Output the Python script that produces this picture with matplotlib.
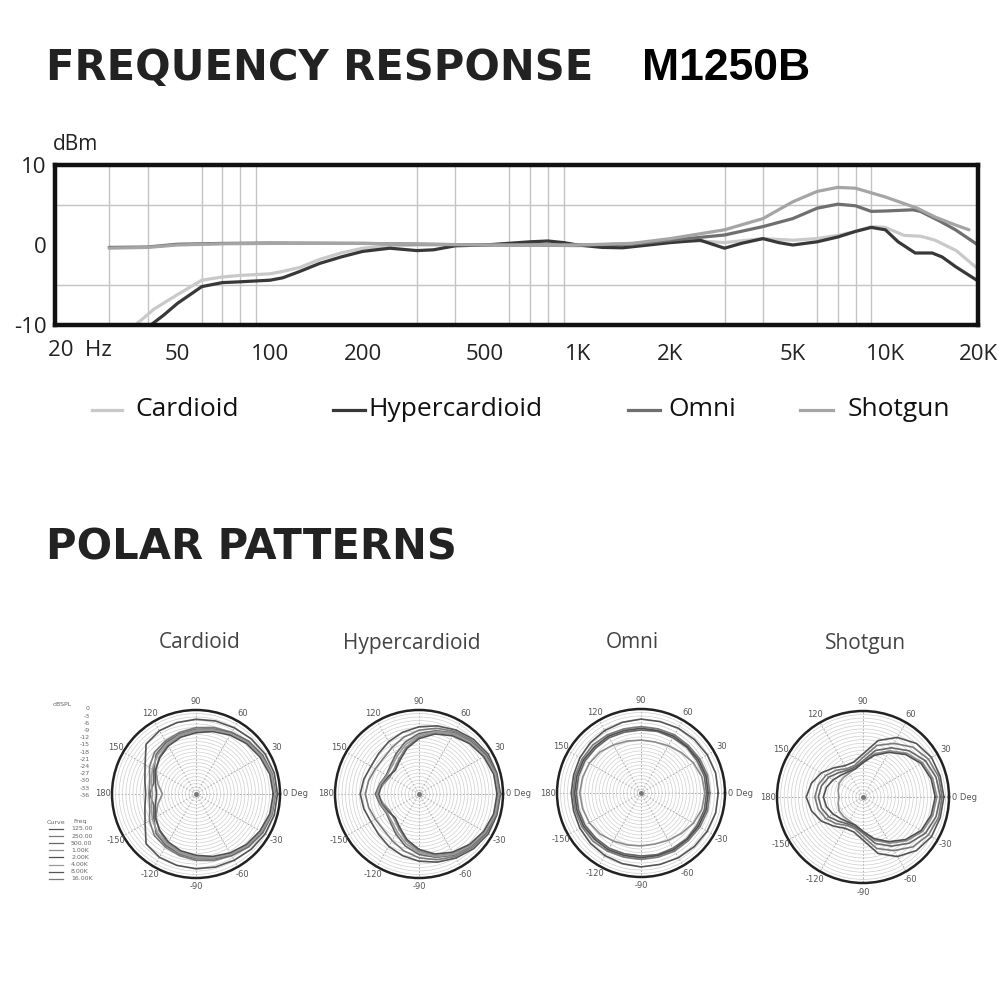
import numpy as np
import matplotlib.pyplot as plt
from matplotlib.lines import Line2D
from matplotlib.ticker import FixedLocator, NullFormatter

# === Frequency response data (Hz, dB) ===
cardioid_f = [36, 42, 50, 60, 70, 80, 100, 110, 125, 145, 170, 200, 250, 300, 400, 500, 700,
              1000, 1500, 2000, 2500, 3000, 4000, 5000, 6000, 7000, 8000, 9000, 10000,
              11500, 13000, 14500, 17000, 20000]
cardioid_db = [-10.2, -8.0, -6.2, -4.4, -4.0, -3.8, -3.6, -3.3, -2.8, -1.8, -1.0, -0.4, -0.1, 0.0, 0.0, 0.0, 0.0,
               -0.1, 0.2, 0.5, 0.5, 0.3, 0.8, 0.6, 0.8, 1.2, 1.7, 2.3, 2.2,
               1.2, 1.1, 0.6, -0.7, -3.0]

hyper_f = [40, 45, 50, 60, 70, 80, 100, 110, 125, 145, 170, 200, 245, 300, 340, 400, 500, 700, 800, 900,
           1000, 1200, 1400, 1700, 2000, 2500, 3000, 3400, 4000, 4500, 5000, 6000, 7000, 8000, 9000,
           10000, 11000, 12500, 14200, 15300, 16900, 20000]
hyper_db = [-10.3, -8.8, -7.3, -5.2, -4.7, -4.6, -4.4, -4.1, -3.3, -2.3, -1.5, -0.8, -0.4, -0.7, -0.6, -0.1, 0.0, 0.4, 0.5, 0.3,
            0.0, -0.3, -0.35, 0.0, 0.3, 0.6, -0.4, 0.2, 0.8, 0.3, 0.0, 0.4, 1.0, 1.7, 2.2,
            1.9, 0.4, -1.0, -1.0, -1.5, -2.7, -4.5]

omni_f = [30, 40, 50, 70, 100, 200, 500, 1000, 1500, 2000, 3000, 4000, 5000, 6000, 7000, 8000, 9000,
          10000, 12300, 13000, 15000, 16900, 20000]
omni_db = [-0.3, -0.25, 0.1, 0.2, 0.25, 0.2, 0.0, 0.0, 0.1, 0.6, 1.25, 2.3, 3.3, 4.6, 5.1, 4.9, 4.2,
           4.25, 4.4, 4.2, 3.0, 1.9, 0.0]

shotgun_f = [30, 40, 50, 70, 100, 200, 500, 1000, 1500, 2000, 3000, 4000, 5000, 6000, 7000, 8000,
             10000, 12700, 14500, 16900, 18700]
shotgun_db = [-0.4, -0.3, 0.0, 0.15, 0.2, 0.2, 0.0, 0.0, 0.2, 0.8, 1.9, 3.3, 5.4, 6.7, 7.2, 7.1,
              6.0, 4.6, 3.5, 2.5, 1.9]

names = ['Cardioid', 'Hypercardioid', 'Omni', 'Shotgun']
line_colors = ['#c9c9c9', '#383838', '#6f6f6f', '#a5a5a5']

x_ticks = [50, 100, 200, 500, 1000, 2000, 5000, 10000, 20000]
x_labels = ['50', '100', '200', '500', '1K', '2K', '5K', '10K', '20K']
grid_f = [30, 40, 50, 60, 70, 80, 90, 100, 200, 300, 400, 500, 600, 700, 800, 900,
          1000, 2000, 3000, 4000, 5000, 6000, 7000, 8000, 9000, 10000]

# === Polar data: relative radius (1 = 0 dB) at 0..180 deg, mirrored for the other side ===
ang = np.arange(0, 181, 15)
polar_cardioid = [
    [0.97, 0.965, 0.95, 0.93, 0.91, 0.90, 0.89, 0.88, 0.87, 0.84, 0.70, 0.63, 0.60],
    [0.95, 0.94, 0.92, 0.89, 0.85, 0.82, 0.79, 0.76, 0.73, 0.70, 0.64, 0.57, 0.56],
    [0.94, 0.93, 0.91, 0.88, 0.84, 0.80, 0.77, 0.74, 0.71, 0.67, 0.58, 0.52, 0.55],
    [0.93, 0.92, 0.90, 0.86, 0.82, 0.78, 0.75, 0.72, 0.68, 0.62, 0.55, 0.47, 0.40],
    [0.92, 0.91, 0.88, 0.85, 0.81, 0.77, 0.73, 0.70, 0.66, 0.61, 0.56, 0.50, 0.47],
    [0.94, 0.93, 0.90, 0.87, 0.83, 0.79, 0.76, 0.73, 0.69, 0.65, 0.60, 0.55, 0.52],
]
polar_hyper = [
    [0.97, 0.96, 0.95, 0.92, 0.88, 0.84, 0.80, 0.76, 0.72, 0.68, 0.66, 0.68, 0.70],
    [0.96, 0.95, 0.93, 0.90, 0.86, 0.81, 0.76, 0.70, 0.64, 0.60, 0.60, 0.62, 0.64],
    [0.95, 0.94, 0.92, 0.88, 0.84, 0.78, 0.72, 0.64, 0.55, 0.48, 0.45, 0.48, 0.52],
    [0.94, 0.93, 0.90, 0.86, 0.82, 0.76, 0.68, 0.58, 0.48, 0.42, 0.40, 0.44, 0.50],
    [0.93, 0.92, 0.89, 0.85, 0.80, 0.74, 0.66, 0.56, 0.46, 0.40, 0.42, 0.46, 0.48],
    [0.95, 0.94, 0.91, 0.87, 0.83, 0.77, 0.70, 0.61, 0.52, 0.46, 0.44, 0.47, 0.50],
]
polar_omni = [
    [0.92, 0.92, 0.91, 0.90, 0.89, 0.88, 0.88, 0.87, 0.86, 0.85, 0.84, 0.83, 0.83],
    [0.82, 0.82, 0.81, 0.80, 0.80, 0.79, 0.79, 0.79, 0.80, 0.81, 0.81, 0.81, 0.81],
    [0.78, 0.78, 0.77, 0.77, 0.76, 0.76, 0.75, 0.75, 0.76, 0.76, 0.77, 0.77, 0.77],
    [0.76, 0.75, 0.72, 0.68, 0.65, 0.63, 0.63, 0.64, 0.66, 0.69, 0.71, 0.72, 0.73],
    [0.80, 0.80, 0.79, 0.78, 0.78, 0.77, 0.77, 0.77, 0.78, 0.78, 0.79, 0.79, 0.79],
]
polar_shotgun = [
    [0.94, 0.93, 0.92, 0.88, 0.80, 0.68, 0.50, 0.42, 0.42, 0.48, 0.56, 0.62, 0.66],
    [0.92, 0.91, 0.88, 0.82, 0.72, 0.62, 0.46, 0.38, 0.38, 0.44, 0.50, 0.54, 0.56],
    [0.90, 0.88, 0.84, 0.76, 0.66, 0.56, 0.42, 0.36, 0.36, 0.40, 0.46, 0.50, 0.52],
    [0.86, 0.84, 0.80, 0.72, 0.62, 0.52, 0.40, 0.34, 0.32, 0.32, 0.32, 0.30, 0.28],
    [0.84, 0.82, 0.78, 0.70, 0.60, 0.50, 0.40, 0.34, 0.34, 0.36, 0.40, 0.44, 0.46],
]
polar_colors = ['#555555', '#7a7a7a', '#666666', '#8c8c8c', '#505050', '#9a9a9a']

angle_labels = {0: '0 Deg', 30: '30', 60: '60', 90: '90', 120: '120', 150: '150', 180: '180',
                210: '-150', 240: '-120', 270: '-90', 300: '-60', 330: '-30'}
dbspl_levels = [0, -3, -6, -9, -12, -15, -18, -21, -24, -27, -30, -33, -36]
curve_freqs = ['125.00', '250.00', '500.00', '1.00K', '2.00K', '4.00K', '8.00K', '16.00K']

COND = ['Open Sans', 'DejaVu Sans']

fig = plt.figure(figsize=(10, 10), dpi=100)
fig.patch.set_facecolor('white')


def fx(x):
    return x / 1000


def fy(y):
    return 1 - y / 1000


# === Titles ===
fig.text(fx(46), fy(68), 'FREQUENCY RESPONSE', fontsize=30, fontweight='bold',
         color='#222222', va='center', ha='left', family='DejaVu Sans')
fig.text(fx(642), fy(68), 'M1250B', fontsize=32, fontweight='bold',
         color='#000000', va='center', ha='left', family='Liberation Sans')
fig.text(fx(46), fy(548), 'POLAR PATTERNS', fontsize=30, fontweight='bold',
         color='#222222', va='center', ha='left', family='DejaVu Sans')

# === Frequency response ===
ax = fig.add_axes([0.055, 0.675, 0.923, 0.16])
ax.set_xscale('log')
for f, d, c in zip([cardioid_f, hyper_f, omni_f, shotgun_f],
                   [cardioid_db, hyper_db, omni_db, shotgun_db], line_colors):
    ax.plot(f, d, color=c, lw=2.3, solid_capstyle='round')
ax.set_xlim(20, 20000)
ax.set_ylim(-10, 10)
ax.xaxis.set_major_locator(FixedLocator(x_ticks))
ax.set_xticklabels(x_labels, family=COND, fontsize=16, color='#222')
ax.xaxis.set_minor_locator(FixedLocator(grid_f))
ax.xaxis.set_minor_formatter(NullFormatter())
ax.set_yticks([-10, 0, 10])
ax.set_yticklabels(['-10', '0', '10'], family=COND, fontsize=16, color='#222')
ax.yaxis.set_minor_locator(FixedLocator([-5, 0, 5]))
ax.grid(which='minor', color='#c4c4c4', lw=1.0)
ax.tick_params(which='both', length=0)
ax.tick_params(axis='x', pad=14)
ax.tick_params(axis='y', pad=6)
for s in ax.spines.values():
    s.set_linewidth(3.2)
    s.set_color('#111')
fig.text(fx(48), fy(351), '20  Hz', family=COND, fontsize=16, color='#222', va='center', ha='left')
fig.text(fx(53), fy(145), 'dBm', family=COND, fontsize=15, color='#222', va='center')

# legend
leg_line_x = [(92, 122), (333, 365), (628, 660), (800, 833)]
leg_text_x = [135, 368, 668, 848]
for (x0, x1), tx, name, c in zip(leg_line_x, leg_text_x, names, line_colors):
    fig.add_artist(Line2D([fx(x0), fx(x1)], [fy(410), fy(410)], color=c, lw=2.3))
    fig.text(fx(tx), fy(410), name, family=COND, fontsize=19, color='#111', va='center')

# === Polar patterns ===
theta = np.deg2rad(np.concatenate([ang, 360 - ang[-2::-1]]))
polar_sets = [polar_cardioid, polar_hyper, polar_omni, polar_shotgun]
centers = [(196, 794), (419, 794), (641, 793), (863, 797)]
radii = [84, 84, 84, 86]
title_x = [200, 412, 632, 865]

for data, (cx, cy), R, tx, name in zip(polar_sets, centers, radii, title_x, names):
    pax = fig.add_axes([fx(cx - R), fy(cy + R), R * 2 / 1000, R * 2 / 1000], projection='polar')
    for i, curve in enumerate(data):
        v = np.array(curve)
        r = np.concatenate([v, v[-2::-1]]) * 36
        pax.plot(theta, r, color=polar_colors[i % len(polar_colors)], lw=1.2)
    pax.plot([0], [0], 'o', ms=2.5, color='#777')
    pax.set_ylim(0, 36)
    pax.set_yticks(np.arange(1.5, 36, 1.5))
    pax.set_yticklabels([])
    pax.set_xticks(np.deg2rad(np.arange(0, 360, 30)))
    pax.set_xticklabels([])
    pax.xaxis.grid(True, color='#9a9a9a', lw=0.6, linestyle=(0, (2, 2)))
    pax.yaxis.grid(True, color='#cfcfcf', lw=0.5)
    pax.spines['polar'].set_linewidth(1.8)
    pax.spines['polar'].set_color('#222')
    for a, lab in angle_labels.items():
        if a == 0:
            pax.text(0, 37.3, lab, fontsize=6, color='#555', ha='left', va='center', clip_on=False)
        else:
            pax.text(np.deg2rad(a), 39.8, lab, fontsize=6, color='#555', ha='center', va='center',
                     clip_on=False)
    fig.text(fx(tx), fy(643), name, family=COND, fontsize=15, color='#444', ha='center', va='center')

# dBSPL scale and curve key beside the first polar plot
fig.text(fx(62), fy(705), 'dBSPL', fontsize=4.5, color='#666', ha='center', va='center')
for i, lev in enumerate(dbspl_levels):
    fig.text(fx(90), fy(709 + i * 7.2), str(lev), fontsize=4.5, color='#666', ha='right', va='center')
fig.text(fx(47), fy(822), 'Curve', fontsize=4.5, color='#666', ha='left', va='center')
fig.text(fx(73), fy(822), 'Freq', fontsize=4.5, color='#666', ha='left', va='center')
for i, lab in enumerate(curve_freqs):
    yy = fy(829 + i * 7.1)
    fig.add_artist(Line2D([fx(49), fx(63)], [yy, yy], color=polar_colors[i % len(polar_colors)], lw=0.9))
    fig.text(fx(71), yy, lab, fontsize=4.5, color='#666', ha='left', va='center')

fig.savefig('out.png', dpi=100, facecolor='white')
